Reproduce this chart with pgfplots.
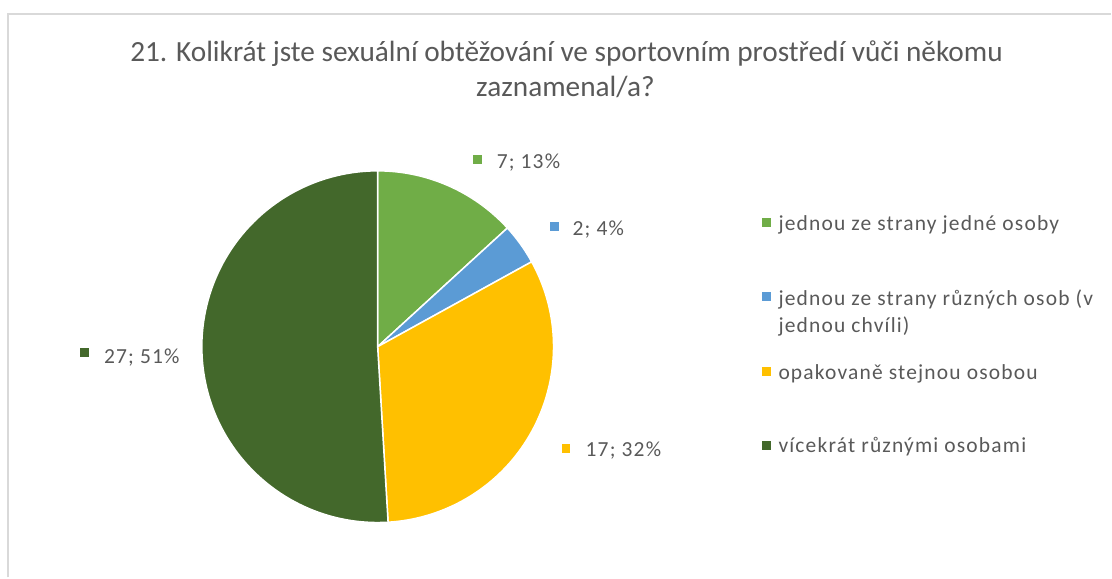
\documentclass[border=0pt]{standalone}
\usepackage{pgfplots}
\pgfplotsset{compat=1.18}
\usepackage{pgfplotstable}
\usepackage{fontspec}
\setmainfont{Carlito}
\newfontfamily\lblfont[LetterSpace=5.5]{Carlito}
\definecolor{cA}{HTML}{70AD47}
\definecolor{cB}{HTML}{5B9BD5}
\definecolor{cC}{HTML}{FFC000}
\definecolor{cD}{HTML}{43682B}
\definecolor{txt}{HTML}{595959}
\definecolor{frame}{HTML}{D9D9D9}

\pgfplotstableread{
idx value
0 7
1 2
2 17
3 27
}\piedata

\begin{document}
\begin{tikzpicture}
% cumulative angles from the data (clockwise from 90 degrees)
\pgfplotstablegetelem{0}{value}\of\piedata \pgfmathsetmacro\va{\pgfplotsretval}
\pgfplotstablegetelem{1}{value}\of\piedata \pgfmathsetmacro\vb{\pgfplotsretval}
\pgfplotstablegetelem{2}{value}\of\piedata \pgfmathsetmacro\vc{\pgfplotsretval}
\pgfplotstablegetelem{3}{value}\of\piedata \pgfmathsetmacro\vd{\pgfplotsretval}
\pgfmathsetmacro\tot{\va+\vb+\vc+\vd}
\pgfmathsetmacro\aA{90}
\pgfmathsetmacro\aB{90-360*\va/\tot}
\pgfmathsetmacro\aC{90-360*(\va+\vb)/\tot}
\pgfmathsetmacro\aD{90-360*(\va+\vb+\vc)/\tot}
\pgfmathsetmacro\aE{90-360}
\begin{axis}[
  scale only axis, width=1112pt, height=578pt,
  xmin=0, xmax=1112, ymin=0, ymax=578,
  hide axis, clip=false,
]
\path (axis cs:0,0) rectangle (axis cs:1112,578);
% frame
\draw[frame, line width=2pt] (axis cs:8,0) -- (axis cs:8,564) -- (axis cs:1112,564);
% pie
\def\cx{378}\def\cy{231}\def\R{176}
\fill[cA, draw=white, line width=1.5pt] (axis cs:\cx,\cy) -- ++(\aA:\R pt) arc[start angle=\aA, end angle=\aB, radius=\R pt] -- cycle;
\fill[cB, draw=white, line width=1.5pt] (axis cs:\cx,\cy) -- ++(\aB:\R pt) arc[start angle=\aB, end angle=\aC, radius=\R pt] -- cycle;
\fill[cC, draw=white, line width=1.5pt] (axis cs:\cx,\cy) -- ++(\aC:\R pt) arc[start angle=\aC, end angle=\aD, radius=\R pt] -- cycle;
\fill[cD, draw=white, line width=1.5pt] (axis cs:\cx,\cy) -- ++(\aD:\R pt) arc[start angle=\aD, end angle=\aE, radius=\R pt] -- cycle;
% title
\node[anchor=base, txt, font=\fontsize{29.3}{34}\selectfont] at (axis cs:567,516) {21. Kolikrát jste sexuální obtěžování ve sportovním prostředí vůči někomu};
\node[anchor=base, txt, font=\fontsize{29.3}{34}\selectfont] at (axis cs:566,481) {zaznamenal/a?};
% data labels
\tikzset{lbl/.style={anchor=base west, inner sep=0pt, txt, font=\lblfont\fontsize{21.5}{25}\selectfont}}
\fill[cA] (axis cs:473,414) rectangle (axis cs:482,423);
\node[lbl] at (axis cs:497,409) {7; 13\%};
\fill[cB] (axis cs:550,347) rectangle (axis cs:559,356);
\node[lbl] at (axis cs:573,342) {2; 4\%};
\fill[cC] (axis cs:562,125) rectangle (axis cs:571,134);
\node[lbl] at (axis cs:586,121) {17; 32\%};
\fill[cD] (axis cs:80,221) rectangle (axis cs:89,230);
\node[lbl] at (axis cs:104,214) {27; 51\%};
% legend
\fill[cA] (axis cs:763,351) rectangle (axis cs:772,360);
\node[lbl] at (axis cs:779,347) {jednou ze strany jedné osoby};
\fill[cB] (axis cs:763,277) rectangle (axis cs:772,286);
\node[lbl] at (axis cs:779,272) {jednou ze strany různých osob (v};
\node[lbl] at (axis cs:779,245) {jednou chvíli)};
\fill[cC] (axis cs:763,202) rectangle (axis cs:772,211);
\node[lbl] at (axis cs:779,198) {opakovaně stejnou osobou};
\fill[cD] (axis cs:763,128) rectangle (axis cs:772,137);
\node[lbl] at (axis cs:779,125) {vícekrát různými osobami};
\end{axis}
\end{tikzpicture}
\end{document}
